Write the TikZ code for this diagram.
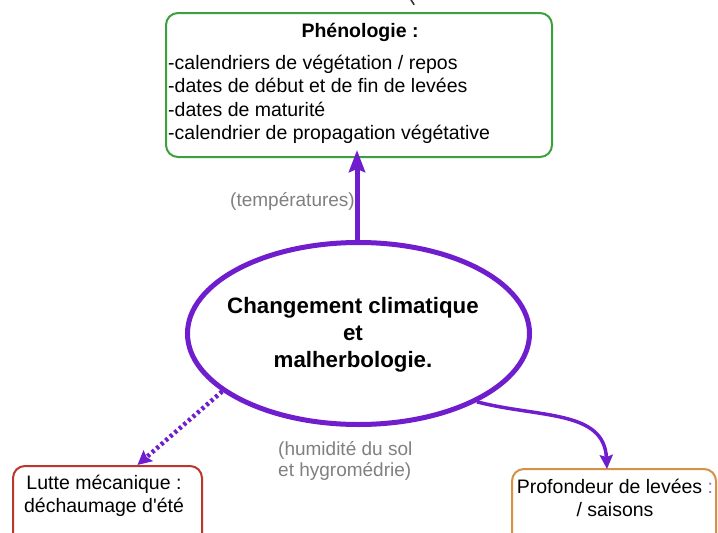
\documentclass[tikz,border=0pt]{standalone}
\usepackage{fontspec}
\setmainfont{Liberation Sans}
\usetikzlibrary{shapes.geometric,arrows.meta,calc}
\definecolor{purp}{RGB}{112,30,205}
\definecolor{gbox}{RGB}{60,160,60}
\definecolor{rbox}{RGB}{185,55,45}
\definecolor{obox}{RGB}{215,145,70}
\definecolor{lbl}{RGB}{128,128,128}
\definecolor{colon}{RGB}{130,110,220}
\tikzset{
  box/.style={draw, line width=2pt, rounded corners=12pt, fill=white, inner sep=0pt},
  txt/.style={font=\fontsize{19.5}{22.5}\selectfont, inner sep=0pt},
  lab/.style={font=\fontsize{19}{21}\selectfont, text=lbl, inner sep=0pt, align=left},
  conn/.style={draw=purp, color=purp},
}
\begin{document}
\begin{tikzpicture}[x=1pt,y=-1pt]
\useasboundingbox (0,0) rectangle (718,533);
\clip (0,0) rectangle (718,533);
\fill[white] (0,0) rectangle (718,533);
% cut-off fragment at top edge
\draw[black!80, line width=1.6pt, line cap=round] (410.5,-1) .. controls (412,2) .. (414,4.5);
% boxes
\node[box, draw=gbox, minimum width=386pt, minimum height=144pt] (phen) at (359,85) {};
\node[txt, font=\fontsize{19.5}{22.5}\selectfont\bfseries] (phent) at (360,32) {Phénologie :};
\node[txt, font=\fontsize{19.5}{23.3}\selectfont, anchor=north west, align=left] (phenl) at (168,55) {-calendriers de végétation / repos\\-dates de début et de fin de levées\\-dates de maturité\\-calendrier de propagation végétative};
\node[box, draw=rbox, minimum width=189pt, minimum height=90pt, anchor=north] (lutte) at (107.5,465) {};
\node[txt, align=center] (luttet) at (104,496) {Lutte mécanique :\\déchaumage d\textquotesingle été};
\node[box, draw=obox, minimum width=204pt, minimum height=90pt, anchor=north] (prof) at (614,468) {};
\node[txt, align=center] (proft) at (615,498) {Profondeur de levées \textcolor{colon}{:}\\/ saisons};
% central ellipse
\node[ellipse, draw=purp, line width=5pt, minimum width=342pt, minimum height=182pt, inner sep=0pt] (cc) at (358.5,333.5) {};
\node[txt, font=\fontsize{22.3}{27}\selectfont\bfseries, align=center] (cct) at (353,335) {Changement climatique\\et\\malherbologie.};
% connectors
\draw[conn, line width=5pt, -{Stealth[length=22pt,width=16pt,inset=3pt]}, shorten >=-8pt] (cc.north -| 357,0) -- (phen.south -| 357,0);
\coordinate (lutteTip) at ($(lutte.north)+(30,0)$);
\draw[conn, line width=4.5pt, dash pattern=on 3pt off 3pt, -{Stealth[length=14pt,width=14pt,inset=2pt]}] (cc.203) -- (lutteTip);
\coordinate (profTip) at ($(prof.north)+(-7,1)$);
\draw[conn, line width=3.5pt, -{Stealth[length=14pt,width=13pt,inset=2pt]}] (cc.-30) .. controls (540,418) and (604,410) .. (profTip);
% labels
\node[lab, anchor=east] (ltemp) at (355,201) {(températures)};
\node[lab, anchor=north west] (lhum) at (278,441) {(humidité du sol\\et hygromédrie)};
\end{tikzpicture}
\end{document}
